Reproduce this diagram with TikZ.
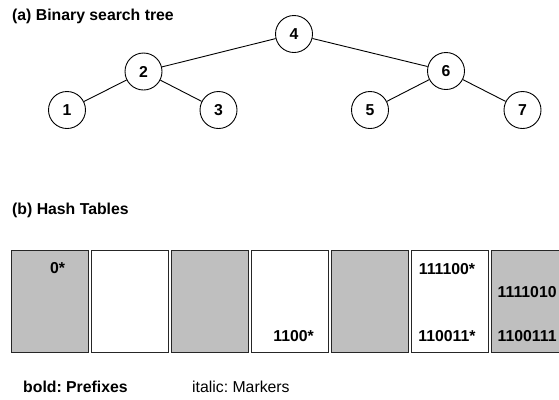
\documentclass[tikz,border=0pt]{standalone}
\usepackage{fontspec}
\setmainfont{Liberation Sans}
\frenchspacing
\begin{document}
\begin{tikzpicture}[x=1bp,y=-1bp,
  txt/.style={font=\fontsize{15.8bp}{17bp}\selectfont\bfseries, inner sep=0pt},
  plain/.style={font=\fontsize{15.8bp}{17bp}\selectfont, inner sep=0pt},
  vertex/.style={circle, draw=black, line width=0.9bp, minimum size=37bp, inner sep=0pt, font=\fontsize{15.8bp}{17bp}\selectfont\bfseries},
  edge/.style={draw=black, line width=0.9bp},
  cell/.style={draw=black!85, line width=0.9bp},
  grey/.style={cell, fill=black!25}]
\useasboundingbox (0,0) rectangle (559,399);
\clip (0,0) rectangle (559,399);
% titles
\node[txt, anchor=base west] (ta) at (12,20) {(a) Binary search tree};
\node[txt, anchor=base west] (tb) at (12,214) {(b) Hash Tables};
% tree
\node[vertex] (n4) at (294,34) {4};
\node[vertex] (n2) at (143.5,71.5) {2};
\node[vertex] (n6) at (446,71) {6};
\node[vertex] (n1) at (67,110) {1};
\node[vertex] (n3) at (218.5,110) {3};
\node[vertex] (n5) at (370,110) {5};
\node[vertex] (n7) at (522.5,110) {7};
\draw[edge] (n4) -- (n2);
\draw[edge] (n4) -- (n6);
\draw[edge] (n2) -- (n1);
\draw[edge] (n2) -- (n3);
\draw[edge] (n6) -- (n5);
\draw[edge] (n6) -- (n7);
% hash table cells
\draw[grey] (11,250) rectangle (88,352.5);
\draw[cell] (91,250) rectangle (168,352.5);
\draw[grey] (171,250) rectangle (248,352.5);
\draw[cell] (251,250) rectangle (328,352.5);
\draw[grey] (331,250) rectangle (408,352.5);
\draw[cell] (411,250) rectangle (488,352.5);
\draw[grey] (491,250) rectangle (568,352.5);
% cell texts
\node[txt, anchor=base] (c1) at (57.5,273) {0*};
\node[txt, anchor=base east] (c4) at (314,341.5) {1100*};
\node[txt, anchor=base] (c6a) at (447,274) {111100*};
\node[txt, anchor=base] (c6b) at (447,341.5) {110011*};
\node[txt, anchor=base west] (c7a) at (497.5,297.5) {1111010};
\node[txt, anchor=base west] (c7b) at (497.5,341.5) {1100111};
% legend
\node[txt, anchor=base west] (l1) at (23,392) {bold: Prefixes};
\node[plain, anchor=base west] (l2) at (192,392) {italic: Markers};
\end{tikzpicture}
\end{document}
